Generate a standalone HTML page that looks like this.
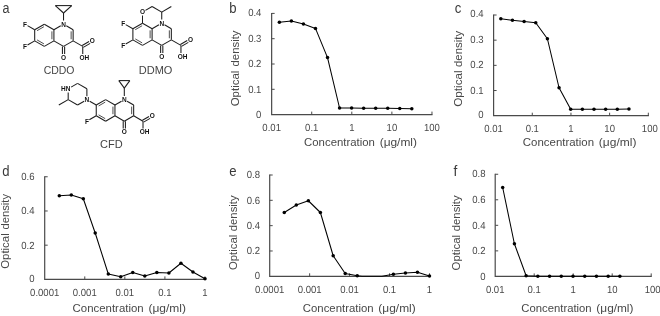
<!DOCTYPE html>
<html><head><meta charset="utf-8"><title>figure</title>
<style>
html,body{margin:0;padding:0;background:#fff;}
body{width:660px;height:316px;overflow:hidden;font-family:"Liberation Sans",sans-serif;}
svg{display:block;will-change:transform}
</style></head><body>
<svg width="660" height="316" viewBox="0 0 660 316">
<rect width="660" height="316" fill="#fff"/>
<line x1="44.30" y1="24.20" x2="53.91" y2="29.75" stroke="#1c1c1c" stroke-width="1.05"/>
<line x1="53.91" y1="29.75" x2="53.91" y2="40.85" stroke="#1c1c1c" stroke-width="1.05"/>
<line x1="53.91" y1="40.85" x2="44.30" y2="46.40" stroke="#1c1c1c" stroke-width="1.05"/>
<line x1="44.30" y1="46.40" x2="34.69" y2="40.85" stroke="#1c1c1c" stroke-width="1.05"/>
<line x1="34.69" y1="40.85" x2="34.69" y2="29.75" stroke="#1c1c1c" stroke-width="1.05"/>
<line x1="34.69" y1="29.75" x2="44.30" y2="24.20" stroke="#1c1c1c" stroke-width="1.05"/>
<line x1="37.07" y1="30.68" x2="43.91" y2="26.73" stroke="#444" stroke-width="0.95"/>
<line x1="51.91" y1="31.35" x2="51.91" y2="39.25" stroke="#444" stroke-width="0.95"/>
<line x1="43.91" y1="43.87" x2="37.07" y2="39.92" stroke="#444" stroke-width="0.95"/>
<line x1="53.91" y1="29.75" x2="60.75" y2="25.80" stroke="#1c1c1c" stroke-width="1.05"/>
<line x1="66.30" y1="25.80" x2="73.14" y2="29.75" stroke="#1c1c1c" stroke-width="1.05"/>
<line x1="73.14" y1="29.75" x2="73.14" y2="40.85" stroke="#1c1c1c" stroke-width="1.05"/>
<line x1="73.14" y1="40.85" x2="63.53" y2="46.40" stroke="#1c1c1c" stroke-width="1.05"/>
<line x1="63.53" y1="46.40" x2="53.91" y2="40.85" stroke="#1c1c1c" stroke-width="1.05"/>
<line x1="71.14" y1="31.35" x2="71.14" y2="39.25" stroke="#444" stroke-width="0.95"/>
<text x="63.53" y="26.54" font-size="6.5" font-weight="bold" text-anchor="middle" fill="#111" font-family="Liberation Sans, sans-serif">N</text>
<line x1="62.43" y1="46.40" x2="62.43" y2="54.10" stroke="#1c1c1c" stroke-width="1.05"/>
<line x1="64.63" y1="46.40" x2="64.63" y2="54.10" stroke="#1c1c1c" stroke-width="1.05"/>
<text x="63.53" y="59.84" font-size="6.5" font-weight="bold" text-anchor="middle" fill="#111" font-family="Liberation Sans, sans-serif">O</text>
<line x1="73.14" y1="40.85" x2="82.75" y2="46.40" stroke="#1c1c1c" stroke-width="1.05"/>
<line x1="83.30" y1="47.35" x2="90.14" y2="43.40" stroke="#1c1c1c" stroke-width="1.05"/>
<line x1="82.20" y1="45.45" x2="89.04" y2="41.50" stroke="#1c1c1c" stroke-width="1.05"/>
<text x="92.36" y="43.19" font-size="6.5" font-weight="bold" text-anchor="middle" fill="#111" font-family="Liberation Sans, sans-serif">O</text>
<line x1="82.75" y1="46.40" x2="82.75" y2="54.10" stroke="#1c1c1c" stroke-width="1.05"/>
<text x="84.35" y="59.84" font-size="6.5" font-weight="bold" text-anchor="middle" fill="#111" font-family="Liberation Sans, sans-serif">OH</text>
<line x1="34.69" y1="29.75" x2="27.50" y2="25.60" stroke="#1c1c1c" stroke-width="1.05"/>
<text x="25.07" y="26.54" font-size="6.5" font-weight="bold" text-anchor="middle" fill="#111" font-family="Liberation Sans, sans-serif">F</text>
<line x1="34.69" y1="40.85" x2="27.50" y2="45.00" stroke="#1c1c1c" stroke-width="1.05"/>
<text x="25.07" y="48.74" font-size="6.5" font-weight="bold" text-anchor="middle" fill="#111" font-family="Liberation Sans, sans-serif">F</text>
<line x1="63.53" y1="20.60" x2="63.53" y2="13.00" stroke="#1c1c1c" stroke-width="1.05"/>
<line x1="63.53" y1="13.00" x2="55.33" y2="5.60" stroke="#1c1c1c" stroke-width="1.05"/>
<line x1="63.53" y1="13.00" x2="71.73" y2="5.60" stroke="#1c1c1c" stroke-width="1.05"/>
<line x1="55.33" y1="5.60" x2="71.73" y2="5.60" stroke="#1c1c1c" stroke-width="1.05"/>
<text x="59.10" y="74.00" font-size="11" text-anchor="middle" fill="#444" font-family="Liberation Sans, sans-serif" textLength="30.80" lengthAdjust="spacingAndGlyphs">CDDO</text>
<line x1="142.50" y1="23.20" x2="152.11" y2="28.75" stroke="#1c1c1c" stroke-width="1.05"/>
<line x1="152.11" y1="28.75" x2="152.11" y2="39.85" stroke="#1c1c1c" stroke-width="1.05"/>
<line x1="152.11" y1="39.85" x2="142.50" y2="45.40" stroke="#1c1c1c" stroke-width="1.05"/>
<line x1="142.50" y1="45.40" x2="132.89" y2="39.85" stroke="#1c1c1c" stroke-width="1.05"/>
<line x1="132.89" y1="39.85" x2="132.89" y2="28.75" stroke="#1c1c1c" stroke-width="1.05"/>
<line x1="132.89" y1="28.75" x2="142.50" y2="23.20" stroke="#1c1c1c" stroke-width="1.05"/>
<line x1="135.27" y1="29.68" x2="142.11" y2="25.73" stroke="#444" stroke-width="0.95"/>
<line x1="150.11" y1="30.35" x2="150.11" y2="38.25" stroke="#444" stroke-width="0.95"/>
<line x1="142.11" y1="42.87" x2="135.27" y2="38.92" stroke="#444" stroke-width="0.95"/>
<line x1="152.11" y1="28.75" x2="158.95" y2="24.80" stroke="#1c1c1c" stroke-width="1.05"/>
<line x1="164.50" y1="24.80" x2="171.34" y2="28.75" stroke="#1c1c1c" stroke-width="1.05"/>
<line x1="171.34" y1="28.75" x2="171.34" y2="39.85" stroke="#1c1c1c" stroke-width="1.05"/>
<line x1="171.34" y1="39.85" x2="161.73" y2="45.40" stroke="#1c1c1c" stroke-width="1.05"/>
<line x1="161.73" y1="45.40" x2="152.11" y2="39.85" stroke="#1c1c1c" stroke-width="1.05"/>
<line x1="169.34" y1="30.35" x2="169.34" y2="38.25" stroke="#444" stroke-width="0.95"/>
<text x="161.73" y="25.54" font-size="6.5" font-weight="bold" text-anchor="middle" fill="#111" font-family="Liberation Sans, sans-serif">N</text>
<line x1="160.63" y1="45.40" x2="160.63" y2="53.10" stroke="#1c1c1c" stroke-width="1.05"/>
<line x1="162.83" y1="45.40" x2="162.83" y2="53.10" stroke="#1c1c1c" stroke-width="1.05"/>
<text x="161.73" y="58.84" font-size="6.5" font-weight="bold" text-anchor="middle" fill="#111" font-family="Liberation Sans, sans-serif">O</text>
<line x1="171.34" y1="39.85" x2="180.95" y2="45.40" stroke="#1c1c1c" stroke-width="1.05"/>
<line x1="181.50" y1="46.35" x2="188.34" y2="42.40" stroke="#1c1c1c" stroke-width="1.05"/>
<line x1="180.40" y1="44.45" x2="187.24" y2="40.50" stroke="#1c1c1c" stroke-width="1.05"/>
<text x="190.56" y="42.19" font-size="6.5" font-weight="bold" text-anchor="middle" fill="#111" font-family="Liberation Sans, sans-serif">O</text>
<line x1="180.95" y1="45.40" x2="180.95" y2="53.10" stroke="#1c1c1c" stroke-width="1.05"/>
<text x="182.55" y="58.84" font-size="6.5" font-weight="bold" text-anchor="middle" fill="#111" font-family="Liberation Sans, sans-serif">OH</text>
<line x1="132.89" y1="28.75" x2="125.70" y2="24.60" stroke="#1c1c1c" stroke-width="1.05"/>
<text x="123.27" y="25.54" font-size="6.5" font-weight="bold" text-anchor="middle" fill="#111" font-family="Liberation Sans, sans-serif">F</text>
<line x1="132.89" y1="39.85" x2="125.70" y2="44.00" stroke="#1c1c1c" stroke-width="1.05"/>
<text x="123.27" y="47.74" font-size="6.5" font-weight="bold" text-anchor="middle" fill="#111" font-family="Liberation Sans, sans-serif">F</text>
<line x1="142.50" y1="23.20" x2="142.50" y2="15.50" stroke="#1c1c1c" stroke-width="1.05"/>
<line x1="145.44" y1="10.40" x2="152.11" y2="6.55" stroke="#1c1c1c" stroke-width="1.05"/>
<line x1="152.11" y1="6.55" x2="161.73" y2="12.10" stroke="#1c1c1c" stroke-width="1.05"/>
<line x1="161.73" y1="12.10" x2="161.73" y2="19.60" stroke="#1c1c1c" stroke-width="1.05"/>
<text x="142.50" y="14.44" font-size="6.5" font-weight="bold" text-anchor="middle" fill="#111" font-family="Liberation Sans, sans-serif">O</text>
<line x1="161.73" y1="12.10" x2="171.34" y2="6.55" stroke="#1c1c1c" stroke-width="1.05"/>
<text x="155.60" y="74.00" font-size="11" text-anchor="middle" fill="#444" font-family="Liberation Sans, sans-serif">DDMO</text>
<line x1="105.60" y1="99.60" x2="114.95" y2="105.00" stroke="#1c1c1c" stroke-width="1.05"/>
<line x1="114.95" y1="105.00" x2="114.95" y2="115.80" stroke="#1c1c1c" stroke-width="1.05"/>
<line x1="114.95" y1="115.80" x2="105.60" y2="121.20" stroke="#1c1c1c" stroke-width="1.05"/>
<line x1="105.60" y1="121.20" x2="96.25" y2="115.80" stroke="#1c1c1c" stroke-width="1.05"/>
<line x1="96.25" y1="115.80" x2="96.25" y2="105.00" stroke="#1c1c1c" stroke-width="1.05"/>
<line x1="96.25" y1="105.00" x2="105.60" y2="99.60" stroke="#1c1c1c" stroke-width="1.05"/>
<line x1="98.63" y1="105.93" x2="105.21" y2="102.13" stroke="#444" stroke-width="0.95"/>
<line x1="112.95" y1="106.60" x2="112.95" y2="114.20" stroke="#444" stroke-width="0.95"/>
<line x1="105.21" y1="118.67" x2="98.63" y2="114.87" stroke="#444" stroke-width="0.95"/>
<line x1="114.95" y1="105.00" x2="121.53" y2="101.20" stroke="#1c1c1c" stroke-width="1.05"/>
<line x1="127.08" y1="101.20" x2="133.66" y2="105.00" stroke="#1c1c1c" stroke-width="1.05"/>
<line x1="133.66" y1="105.00" x2="133.66" y2="115.80" stroke="#1c1c1c" stroke-width="1.05"/>
<line x1="133.66" y1="115.80" x2="124.31" y2="121.20" stroke="#1c1c1c" stroke-width="1.05"/>
<line x1="124.31" y1="121.20" x2="114.95" y2="115.80" stroke="#1c1c1c" stroke-width="1.05"/>
<line x1="131.66" y1="106.60" x2="131.66" y2="114.20" stroke="#444" stroke-width="0.95"/>
<text x="124.31" y="101.94" font-size="6.5" font-weight="bold" text-anchor="middle" fill="#111" font-family="Liberation Sans, sans-serif">N</text>
<line x1="123.21" y1="121.20" x2="123.21" y2="128.60" stroke="#1c1c1c" stroke-width="1.05"/>
<line x1="125.41" y1="121.20" x2="125.41" y2="128.60" stroke="#1c1c1c" stroke-width="1.05"/>
<text x="124.31" y="134.34" font-size="6.5" font-weight="bold" text-anchor="middle" fill="#111" font-family="Liberation Sans, sans-serif">O</text>
<line x1="133.66" y1="115.80" x2="143.01" y2="121.20" stroke="#1c1c1c" stroke-width="1.05"/>
<line x1="143.56" y1="122.15" x2="150.14" y2="118.35" stroke="#1c1c1c" stroke-width="1.05"/>
<line x1="142.46" y1="120.25" x2="149.04" y2="116.45" stroke="#1c1c1c" stroke-width="1.05"/>
<text x="152.36" y="118.14" font-size="6.5" font-weight="bold" text-anchor="middle" fill="#111" font-family="Liberation Sans, sans-serif">O</text>
<line x1="143.01" y1="121.20" x2="143.01" y2="128.60" stroke="#1c1c1c" stroke-width="1.05"/>
<text x="144.61" y="134.34" font-size="6.5" font-weight="bold" text-anchor="middle" fill="#111" font-family="Liberation Sans, sans-serif">OH</text>
<line x1="96.25" y1="115.80" x2="89.32" y2="119.80" stroke="#1c1c1c" stroke-width="1.05"/>
<text x="86.89" y="123.54" font-size="6.5" font-weight="bold" text-anchor="middle" fill="#111" font-family="Liberation Sans, sans-serif">F</text>
<line x1="124.31" y1="96.00" x2="124.31" y2="88.10" stroke="#1c1c1c" stroke-width="1.05"/>
<line x1="124.31" y1="88.10" x2="118.81" y2="80.60" stroke="#1c1c1c" stroke-width="1.05"/>
<line x1="124.31" y1="88.10" x2="129.81" y2="80.60" stroke="#1c1c1c" stroke-width="1.05"/>
<line x1="118.81" y1="80.60" x2="129.81" y2="80.60" stroke="#1c1c1c" stroke-width="1.05"/>
<line x1="96.25" y1="105.00" x2="89.67" y2="101.20" stroke="#1c1c1c" stroke-width="1.05"/>
<text x="86.89" y="101.94" font-size="6.5" font-weight="bold" text-anchor="middle" fill="#111" font-family="Liberation Sans, sans-serif">N</text>
<line x1="86.89" y1="96.20" x2="86.89" y2="88.80" stroke="#1c1c1c" stroke-width="1.05"/>
<line x1="86.89" y1="88.80" x2="77.54" y2="83.40" stroke="#1c1c1c" stroke-width="1.05"/>
<line x1="77.54" y1="83.40" x2="71.13" y2="87.10" stroke="#1c1c1c" stroke-width="1.05"/>
<line x1="68.19" y1="92.40" x2="68.19" y2="99.60" stroke="#1c1c1c" stroke-width="1.05"/>
<line x1="68.19" y1="99.60" x2="77.54" y2="105.00" stroke="#1c1c1c" stroke-width="1.05"/>
<line x1="77.54" y1="105.00" x2="84.12" y2="101.20" stroke="#1c1c1c" stroke-width="1.05"/>
<text x="70.39" y="91.14" font-size="6.5" font-weight="bold" text-anchor="end" fill="#111" font-family="Liberation Sans, sans-serif">HN</text>
<line x1="68.19" y1="99.60" x2="58.84" y2="105.00" stroke="#1c1c1c" stroke-width="1.05"/>
<text x="111.40" y="148.20" font-size="11" text-anchor="middle" fill="#444" font-family="Liberation Sans, sans-serif">CFD</text>
<text x="2.60" y="12.60" font-size="14" text-anchor="start" fill="#3a3a3a" font-family="Liberation Sans, sans-serif" textLength="7.00" lengthAdjust="spacingAndGlyphs">a</text>
<text x="229.30" y="12.80" font-size="14" text-anchor="start" fill="#3a3a3a" font-family="Liberation Sans, sans-serif" textLength="7.30" lengthAdjust="spacingAndGlyphs">b</text>
<path d="M271.65 12.90 V114.60 H432.50" fill="none" stroke="#4a4a4a" stroke-width="1.2"/>
<text x="261.40" y="118.00" font-size="10.3" text-anchor="end" fill="#484848" font-family="Liberation Sans, sans-serif" textLength="5.31" lengthAdjust="spacingAndGlyphs" style="text-rendering:geometricPrecision">0</text>
<line x1="271.65" y1="89.30" x2="274.65" y2="89.30" stroke="#4a4a4a" stroke-width="1.0"/>
<text x="261.40" y="92.70" font-size="10.3" text-anchor="end" fill="#484848" font-family="Liberation Sans, sans-serif" textLength="13.27" lengthAdjust="spacingAndGlyphs" style="text-rendering:geometricPrecision">0.1</text>
<line x1="271.65" y1="64.00" x2="274.65" y2="64.00" stroke="#4a4a4a" stroke-width="1.0"/>
<text x="261.40" y="67.40" font-size="10.3" text-anchor="end" fill="#484848" font-family="Liberation Sans, sans-serif" textLength="13.27" lengthAdjust="spacingAndGlyphs" style="text-rendering:geometricPrecision">0.2</text>
<line x1="271.65" y1="38.70" x2="274.65" y2="38.70" stroke="#4a4a4a" stroke-width="1.0"/>
<text x="261.40" y="42.10" font-size="10.3" text-anchor="end" fill="#484848" font-family="Liberation Sans, sans-serif" textLength="13.27" lengthAdjust="spacingAndGlyphs" style="text-rendering:geometricPrecision">0.3</text>
<line x1="271.65" y1="13.40" x2="274.65" y2="13.40" stroke="#4a4a4a" stroke-width="1.0"/>
<text x="261.40" y="15.90" font-size="10.3" text-anchor="end" fill="#484848" font-family="Liberation Sans, sans-serif" textLength="13.27" lengthAdjust="spacingAndGlyphs" style="text-rendering:geometricPrecision">0.4</text>
<text x="271.65" y="130.70" font-size="10.3" text-anchor="middle" fill="#484848" font-family="Liberation Sans, sans-serif" textLength="18.58" lengthAdjust="spacingAndGlyphs" style="text-rendering:geometricPrecision">0.01</text>
<line x1="311.73" y1="114.60" x2="311.73" y2="111.60" stroke="#4a4a4a" stroke-width="1.0"/>
<text x="311.73" y="130.70" font-size="10.3" text-anchor="middle" fill="#484848" font-family="Liberation Sans, sans-serif" textLength="13.27" lengthAdjust="spacingAndGlyphs" style="text-rendering:geometricPrecision">0.1</text>
<line x1="351.81" y1="114.60" x2="351.81" y2="111.60" stroke="#4a4a4a" stroke-width="1.0"/>
<text x="351.81" y="130.70" font-size="10.3" text-anchor="middle" fill="#484848" font-family="Liberation Sans, sans-serif" textLength="5.31" lengthAdjust="spacingAndGlyphs" style="text-rendering:geometricPrecision">1</text>
<line x1="391.89" y1="114.60" x2="391.89" y2="111.60" stroke="#4a4a4a" stroke-width="1.0"/>
<text x="391.89" y="130.70" font-size="10.3" text-anchor="middle" fill="#484848" font-family="Liberation Sans, sans-serif" textLength="10.62" lengthAdjust="spacingAndGlyphs" style="text-rendering:geometricPrecision">10</text>
<line x1="431.97" y1="114.60" x2="431.97" y2="111.60" stroke="#4a4a4a" stroke-width="1.0"/>
<text x="431.97" y="130.70" font-size="10.3" text-anchor="middle" fill="#484848" font-family="Liberation Sans, sans-serif" textLength="15.93" lengthAdjust="spacingAndGlyphs" style="text-rendering:geometricPrecision">100</text>
<text x="304.10" y="145.90" font-size="11.5" text-anchor="start" fill="#484848" font-family="Liberation Sans, sans-serif" textLength="70.77" lengthAdjust="spacingAndGlyphs">Concentration</text>
<text x="379.67" y="145.90" font-size="11.5" text-anchor="start" fill="#484848" font-family="Liberation Sans, sans-serif" textLength="37.33" lengthAdjust="spacingAndGlyphs">(&#956;g/ml)</text>
<text transform="translate(239.10,66.50) rotate(-90)" font-size="11.5" fill="#484848" font-family="Liberation Sans, sans-serif" textLength="36.00" lengthAdjust="spacingAndGlyphs">density</text>
<text transform="translate(239.10,106.30) rotate(-90)" font-size="11.5" fill="#484848" font-family="Liberation Sans, sans-serif" textLength="35.60" lengthAdjust="spacingAndGlyphs">Optical</text>
<polyline fill="none" stroke="#000" stroke-width="1.05" stroke-linejoin="round" points="279.36,22.15 291.40,20.90 303.44,24.10 315.48,28.40 327.52,57.60 339.56,108.00 351.60,108.00 363.64,108.25 375.68,108.25 387.72,108.25 399.76,108.50 411.80,108.75"/>
<circle cx="279.36" cy="22.15" r="1.75" fill="#000"/>
<circle cx="291.40" cy="20.90" r="1.75" fill="#000"/>
<circle cx="303.44" cy="24.10" r="1.75" fill="#000"/>
<circle cx="315.48" cy="28.40" r="1.75" fill="#000"/>
<circle cx="327.52" cy="57.60" r="1.75" fill="#000"/>
<circle cx="339.56" cy="108.00" r="1.75" fill="#000"/>
<circle cx="351.60" cy="108.00" r="1.75" fill="#000"/>
<circle cx="363.64" cy="108.25" r="1.75" fill="#000"/>
<circle cx="375.68" cy="108.25" r="1.75" fill="#000"/>
<circle cx="387.72" cy="108.25" r="1.75" fill="#000"/>
<circle cx="399.76" cy="108.50" r="1.75" fill="#000"/>
<circle cx="411.80" cy="108.75" r="1.75" fill="#000"/>
<text x="454.80" y="12.80" font-size="14" text-anchor="start" fill="#3a3a3a" font-family="Liberation Sans, sans-serif" textLength="6.60" lengthAdjust="spacingAndGlyphs">c</text>
<path d="M493.60 14.50 V115.70 H648.90" fill="none" stroke="#4a4a4a" stroke-width="1.2"/>
<text x="483.60" y="118.40" font-size="10.3" text-anchor="end" fill="#484848" font-family="Liberation Sans, sans-serif" textLength="5.31" lengthAdjust="spacingAndGlyphs" style="text-rendering:geometricPrecision">0</text>
<line x1="493.60" y1="90.53" x2="496.60" y2="90.53" stroke="#4a4a4a" stroke-width="1.0"/>
<text x="483.60" y="93.63" font-size="10.3" text-anchor="end" fill="#484848" font-family="Liberation Sans, sans-serif" textLength="13.27" lengthAdjust="spacingAndGlyphs" style="text-rendering:geometricPrecision">0.1</text>
<line x1="493.60" y1="65.35" x2="496.60" y2="65.35" stroke="#4a4a4a" stroke-width="1.0"/>
<text x="483.60" y="68.45" font-size="10.3" text-anchor="end" fill="#484848" font-family="Liberation Sans, sans-serif" textLength="13.27" lengthAdjust="spacingAndGlyphs" style="text-rendering:geometricPrecision">0.2</text>
<line x1="493.60" y1="40.17" x2="496.60" y2="40.17" stroke="#4a4a4a" stroke-width="1.0"/>
<text x="483.60" y="43.27" font-size="10.3" text-anchor="end" fill="#484848" font-family="Liberation Sans, sans-serif" textLength="13.27" lengthAdjust="spacingAndGlyphs" style="text-rendering:geometricPrecision">0.3</text>
<line x1="493.60" y1="15.00" x2="496.60" y2="15.00" stroke="#4a4a4a" stroke-width="1.0"/>
<text x="483.60" y="17.20" font-size="10.3" text-anchor="end" fill="#484848" font-family="Liberation Sans, sans-serif" textLength="13.27" lengthAdjust="spacingAndGlyphs" style="text-rendering:geometricPrecision">0.4</text>
<text x="493.60" y="131.50" font-size="10.3" text-anchor="middle" fill="#484848" font-family="Liberation Sans, sans-serif" textLength="18.58" lengthAdjust="spacingAndGlyphs" style="text-rendering:geometricPrecision">0.01</text>
<line x1="532.28" y1="115.70" x2="532.28" y2="112.70" stroke="#4a4a4a" stroke-width="1.0"/>
<text x="532.28" y="131.50" font-size="10.3" text-anchor="middle" fill="#484848" font-family="Liberation Sans, sans-serif" textLength="13.27" lengthAdjust="spacingAndGlyphs" style="text-rendering:geometricPrecision">0.1</text>
<line x1="570.96" y1="115.70" x2="570.96" y2="112.70" stroke="#4a4a4a" stroke-width="1.0"/>
<text x="570.96" y="131.50" font-size="10.3" text-anchor="middle" fill="#484848" font-family="Liberation Sans, sans-serif" textLength="5.31" lengthAdjust="spacingAndGlyphs" style="text-rendering:geometricPrecision">1</text>
<line x1="609.64" y1="115.70" x2="609.64" y2="112.70" stroke="#4a4a4a" stroke-width="1.0"/>
<text x="609.64" y="131.50" font-size="10.3" text-anchor="middle" fill="#484848" font-family="Liberation Sans, sans-serif" textLength="10.62" lengthAdjust="spacingAndGlyphs" style="text-rendering:geometricPrecision">10</text>
<line x1="648.32" y1="115.70" x2="648.32" y2="112.70" stroke="#4a4a4a" stroke-width="1.0"/>
<text x="649.82" y="131.50" font-size="10.3" text-anchor="middle" fill="#484848" font-family="Liberation Sans, sans-serif" textLength="15.93" lengthAdjust="spacingAndGlyphs" style="text-rendering:geometricPrecision">100</text>
<text x="522.85" y="145.90" font-size="11.5" text-anchor="start" fill="#484848" font-family="Liberation Sans, sans-serif" textLength="71.22" lengthAdjust="spacingAndGlyphs">Concentration</text>
<text x="598.88" y="145.90" font-size="11.5" text-anchor="start" fill="#484848" font-family="Liberation Sans, sans-serif" textLength="37.57" lengthAdjust="spacingAndGlyphs">(&#956;g/ml)</text>
<text transform="translate(462.40,67.00) rotate(-90)" font-size="11.5" fill="#484848" font-family="Liberation Sans, sans-serif" textLength="36.20" lengthAdjust="spacingAndGlyphs">density</text>
<text transform="translate(462.40,106.70) rotate(-90)" font-size="11.5" fill="#484848" font-family="Liberation Sans, sans-serif" textLength="36.20" lengthAdjust="spacingAndGlyphs">Optical</text>
<polyline fill="none" stroke="#000" stroke-width="1.05" stroke-linejoin="round" points="500.80,18.75 512.45,20.25 524.10,21.50 535.75,22.75 547.40,38.75 559.05,87.75 570.70,109.25 582.35,109.25 594.00,109.25 605.65,109.25 617.30,109.25 628.95,109.00"/>
<circle cx="500.80" cy="18.75" r="1.75" fill="#000"/>
<circle cx="512.45" cy="20.25" r="1.75" fill="#000"/>
<circle cx="524.10" cy="21.50" r="1.75" fill="#000"/>
<circle cx="535.75" cy="22.75" r="1.75" fill="#000"/>
<circle cx="547.40" cy="38.75" r="1.75" fill="#000"/>
<circle cx="559.05" cy="87.75" r="1.75" fill="#000"/>
<circle cx="570.70" cy="109.25" r="1.75" fill="#000"/>
<circle cx="582.35" cy="109.25" r="1.75" fill="#000"/>
<circle cx="594.00" cy="109.25" r="1.75" fill="#000"/>
<circle cx="605.65" cy="109.25" r="1.75" fill="#000"/>
<circle cx="617.30" cy="109.25" r="1.75" fill="#000"/>
<circle cx="628.95" cy="109.00" r="1.75" fill="#000"/>
<text x="2.30" y="175.50" font-size="14" text-anchor="start" fill="#3a3a3a" font-family="Liberation Sans, sans-serif" textLength="7.30" lengthAdjust="spacingAndGlyphs">d</text>
<path d="M44.70 176.25 V279.40 H205.50" fill="none" stroke="#4a4a4a" stroke-width="1.2"/>
<text x="34.50" y="281.80" font-size="10.3" text-anchor="end" fill="#484848" font-family="Liberation Sans, sans-serif" textLength="5.31" lengthAdjust="spacingAndGlyphs" style="text-rendering:geometricPrecision">0</text>
<line x1="44.70" y1="245.18" x2="47.70" y2="245.18" stroke="#4a4a4a" stroke-width="1.0"/>
<text x="34.50" y="248.58" font-size="10.3" text-anchor="end" fill="#484848" font-family="Liberation Sans, sans-serif" textLength="13.27" lengthAdjust="spacingAndGlyphs" style="text-rendering:geometricPrecision">0.2</text>
<line x1="44.70" y1="210.97" x2="47.70" y2="210.97" stroke="#4a4a4a" stroke-width="1.0"/>
<text x="34.50" y="214.37" font-size="10.3" text-anchor="end" fill="#484848" font-family="Liberation Sans, sans-serif" textLength="13.27" lengthAdjust="spacingAndGlyphs" style="text-rendering:geometricPrecision">0.4</text>
<line x1="44.70" y1="176.75" x2="47.70" y2="176.75" stroke="#4a4a4a" stroke-width="1.0"/>
<text x="34.50" y="180.05" font-size="10.3" text-anchor="end" fill="#484848" font-family="Liberation Sans, sans-serif" textLength="13.27" lengthAdjust="spacingAndGlyphs" style="text-rendering:geometricPrecision">0.6</text>
<text x="44.70" y="295.50" font-size="10.3" text-anchor="middle" fill="#484848" font-family="Liberation Sans, sans-serif" textLength="29.20" lengthAdjust="spacingAndGlyphs" style="text-rendering:geometricPrecision">0.0001</text>
<line x1="84.77" y1="279.40" x2="84.77" y2="276.40" stroke="#4a4a4a" stroke-width="1.0"/>
<text x="84.77" y="295.50" font-size="10.3" text-anchor="middle" fill="#484848" font-family="Liberation Sans, sans-serif" textLength="23.89" lengthAdjust="spacingAndGlyphs" style="text-rendering:geometricPrecision">0.001</text>
<line x1="124.84" y1="279.40" x2="124.84" y2="276.40" stroke="#4a4a4a" stroke-width="1.0"/>
<text x="124.84" y="295.50" font-size="10.3" text-anchor="middle" fill="#484848" font-family="Liberation Sans, sans-serif" textLength="18.58" lengthAdjust="spacingAndGlyphs" style="text-rendering:geometricPrecision">0.01</text>
<line x1="164.91" y1="279.40" x2="164.91" y2="276.40" stroke="#4a4a4a" stroke-width="1.0"/>
<text x="164.91" y="295.50" font-size="10.3" text-anchor="middle" fill="#484848" font-family="Liberation Sans, sans-serif" textLength="13.27" lengthAdjust="spacingAndGlyphs" style="text-rendering:geometricPrecision">0.1</text>
<line x1="204.98" y1="279.40" x2="204.98" y2="276.40" stroke="#4a4a4a" stroke-width="1.0"/>
<text x="204.98" y="295.50" font-size="10.3" text-anchor="middle" fill="#484848" font-family="Liberation Sans, sans-serif" textLength="5.31" lengthAdjust="spacingAndGlyphs" style="text-rendering:geometricPrecision">1</text>
<text x="72.60" y="311.90" font-size="11.5" text-anchor="start" fill="#484848" font-family="Liberation Sans, sans-serif" textLength="71.06" lengthAdjust="spacingAndGlyphs">Concentration</text>
<text x="148.47" y="311.90" font-size="11.5" text-anchor="start" fill="#484848" font-family="Liberation Sans, sans-serif" textLength="37.48" lengthAdjust="spacingAndGlyphs">(&#956;g/ml)</text>
<text transform="translate(9.30,229.60) rotate(-90)" font-size="11.5" fill="#484848" font-family="Liberation Sans, sans-serif" textLength="35.70" lengthAdjust="spacingAndGlyphs">density</text>
<text transform="translate(9.30,268.80) rotate(-90)" font-size="11.5" fill="#484848" font-family="Liberation Sans, sans-serif" textLength="35.50" lengthAdjust="spacingAndGlyphs">Optical</text>
<polyline fill="none" stroke="#000" stroke-width="1.05" stroke-linejoin="round" points="59.30,195.75 71.30,195.00 83.30,198.75 95.20,233.00 108.30,274.00 120.72,276.75 132.76,272.50 144.80,276.00 156.84,272.50 168.88,273.00 180.92,263.25 192.96,272.00 205.00,278.75"/>
<circle cx="59.30" cy="195.75" r="1.75" fill="#000"/>
<circle cx="71.30" cy="195.00" r="1.75" fill="#000"/>
<circle cx="83.30" cy="198.75" r="1.75" fill="#000"/>
<circle cx="95.20" cy="233.00" r="1.75" fill="#000"/>
<circle cx="108.30" cy="274.00" r="1.75" fill="#000"/>
<circle cx="120.72" cy="276.75" r="1.75" fill="#000"/>
<circle cx="132.76" cy="272.50" r="1.75" fill="#000"/>
<circle cx="144.80" cy="276.00" r="1.75" fill="#000"/>
<circle cx="156.84" cy="272.50" r="1.75" fill="#000"/>
<circle cx="168.88" cy="273.00" r="1.75" fill="#000"/>
<circle cx="180.92" cy="263.25" r="1.75" fill="#000"/>
<circle cx="192.96" cy="272.00" r="1.75" fill="#000"/>
<circle cx="205.00" cy="278.75" r="1.75" fill="#000"/>
<text x="229.30" y="175.50" font-size="14" text-anchor="start" fill="#3a3a3a" font-family="Liberation Sans, sans-serif" textLength="7.30" lengthAdjust="spacingAndGlyphs">e</text>
<path d="M269.70 174.50 V276.30 H430.10" fill="none" stroke="#4a4a4a" stroke-width="1.2"/>
<text x="260.00" y="278.80" font-size="10.3" text-anchor="end" fill="#484848" font-family="Liberation Sans, sans-serif" textLength="5.31" lengthAdjust="spacingAndGlyphs" style="text-rendering:geometricPrecision">0</text>
<line x1="269.70" y1="250.98" x2="272.70" y2="250.98" stroke="#4a4a4a" stroke-width="1.0"/>
<text x="260.00" y="254.38" font-size="10.3" text-anchor="end" fill="#484848" font-family="Liberation Sans, sans-serif" textLength="13.27" lengthAdjust="spacingAndGlyphs" style="text-rendering:geometricPrecision">0.2</text>
<line x1="269.70" y1="225.65" x2="272.70" y2="225.65" stroke="#4a4a4a" stroke-width="1.0"/>
<text x="260.00" y="229.05" font-size="10.3" text-anchor="end" fill="#484848" font-family="Liberation Sans, sans-serif" textLength="13.27" lengthAdjust="spacingAndGlyphs" style="text-rendering:geometricPrecision">0.4</text>
<line x1="269.70" y1="200.32" x2="272.70" y2="200.32" stroke="#4a4a4a" stroke-width="1.0"/>
<text x="260.00" y="203.72" font-size="10.3" text-anchor="end" fill="#484848" font-family="Liberation Sans, sans-serif" textLength="13.27" lengthAdjust="spacingAndGlyphs" style="text-rendering:geometricPrecision">0.6</text>
<line x1="269.70" y1="175.00" x2="272.70" y2="175.00" stroke="#4a4a4a" stroke-width="1.0"/>
<text x="260.00" y="177.50" font-size="10.3" text-anchor="end" fill="#484848" font-family="Liberation Sans, sans-serif" textLength="13.27" lengthAdjust="spacingAndGlyphs" style="text-rendering:geometricPrecision">0.8</text>
<text x="269.70" y="293.00" font-size="10.3" text-anchor="middle" fill="#484848" font-family="Liberation Sans, sans-serif" textLength="29.20" lengthAdjust="spacingAndGlyphs" style="text-rendering:geometricPrecision">0.0001</text>
<line x1="309.65" y1="276.30" x2="309.65" y2="273.30" stroke="#4a4a4a" stroke-width="1.0"/>
<text x="309.65" y="293.00" font-size="10.3" text-anchor="middle" fill="#484848" font-family="Liberation Sans, sans-serif" textLength="23.89" lengthAdjust="spacingAndGlyphs" style="text-rendering:geometricPrecision">0.001</text>
<line x1="349.60" y1="276.30" x2="349.60" y2="273.30" stroke="#4a4a4a" stroke-width="1.0"/>
<text x="349.60" y="293.00" font-size="10.3" text-anchor="middle" fill="#484848" font-family="Liberation Sans, sans-serif" textLength="18.58" lengthAdjust="spacingAndGlyphs" style="text-rendering:geometricPrecision">0.01</text>
<line x1="389.55" y1="276.30" x2="389.55" y2="273.30" stroke="#4a4a4a" stroke-width="1.0"/>
<text x="389.55" y="293.00" font-size="10.3" text-anchor="middle" fill="#484848" font-family="Liberation Sans, sans-serif" textLength="13.27" lengthAdjust="spacingAndGlyphs" style="text-rendering:geometricPrecision">0.1</text>
<line x1="429.50" y1="276.30" x2="429.50" y2="273.30" stroke="#4a4a4a" stroke-width="1.0"/>
<text x="429.50" y="293.00" font-size="10.3" text-anchor="middle" fill="#484848" font-family="Liberation Sans, sans-serif" textLength="5.31" lengthAdjust="spacingAndGlyphs" style="text-rendering:geometricPrecision">1</text>
<text x="302.85" y="311.90" font-size="11.5" text-anchor="start" fill="#484848" font-family="Liberation Sans, sans-serif" textLength="70.74" lengthAdjust="spacingAndGlyphs">Concentration</text>
<text x="378.38" y="311.90" font-size="11.5" text-anchor="start" fill="#484848" font-family="Liberation Sans, sans-serif" textLength="37.32" lengthAdjust="spacingAndGlyphs">(&#956;g/ml)</text>
<text transform="translate(237.30,231.20) rotate(-90)" font-size="11.5" fill="#484848" font-family="Liberation Sans, sans-serif" textLength="35.80" lengthAdjust="spacingAndGlyphs">density</text>
<text transform="translate(237.30,270.00) rotate(-90)" font-size="11.5" fill="#484848" font-family="Liberation Sans, sans-serif" textLength="35.20" lengthAdjust="spacingAndGlyphs">Optical</text>
<polyline fill="none" stroke="#000" stroke-width="1.05" stroke-linejoin="round" points="284.27,212.50 296.31,205.00 308.35,200.75 320.39,212.50 333.18,255.75 345.22,273.50 357.26,275.75 362.00,276.30 382.00,276.30 393.38,274.25 405.42,273.00 417.46,272.25 429.50,276.00"/>
<circle cx="284.27" cy="212.50" r="1.75" fill="#000"/>
<circle cx="296.31" cy="205.00" r="1.75" fill="#000"/>
<circle cx="308.35" cy="200.75" r="1.75" fill="#000"/>
<circle cx="320.39" cy="212.50" r="1.75" fill="#000"/>
<circle cx="333.18" cy="255.75" r="1.75" fill="#000"/>
<circle cx="345.22" cy="273.50" r="1.75" fill="#000"/>
<circle cx="357.26" cy="275.75" r="1.75" fill="#000"/>
<circle cx="393.38" cy="274.25" r="1.75" fill="#000"/>
<circle cx="405.42" cy="273.00" r="1.75" fill="#000"/>
<circle cx="417.46" cy="272.25" r="1.75" fill="#000"/>
<circle cx="429.50" cy="276.00" r="1.75" fill="#000"/>
<text x="453.50" y="175.50" font-size="14" text-anchor="start" fill="#3a3a3a" font-family="Liberation Sans, sans-serif" textLength="3.80" lengthAdjust="spacingAndGlyphs">f</text>
<path d="M495.20 173.75 V276.40 H651.75" fill="none" stroke="#4a4a4a" stroke-width="1.2"/>
<text x="485.50" y="279.80" font-size="10.3" text-anchor="end" fill="#484848" font-family="Liberation Sans, sans-serif" textLength="5.31" lengthAdjust="spacingAndGlyphs" style="text-rendering:geometricPrecision">0</text>
<line x1="495.20" y1="250.86" x2="498.20" y2="250.86" stroke="#4a4a4a" stroke-width="1.0"/>
<text x="485.50" y="254.26" font-size="10.3" text-anchor="end" fill="#484848" font-family="Liberation Sans, sans-serif" textLength="13.27" lengthAdjust="spacingAndGlyphs" style="text-rendering:geometricPrecision">0.2</text>
<line x1="495.20" y1="225.32" x2="498.20" y2="225.32" stroke="#4a4a4a" stroke-width="1.0"/>
<text x="485.50" y="228.72" font-size="10.3" text-anchor="end" fill="#484848" font-family="Liberation Sans, sans-serif" textLength="13.27" lengthAdjust="spacingAndGlyphs" style="text-rendering:geometricPrecision">0.4</text>
<line x1="495.20" y1="199.79" x2="498.20" y2="199.79" stroke="#4a4a4a" stroke-width="1.0"/>
<text x="485.50" y="203.19" font-size="10.3" text-anchor="end" fill="#484848" font-family="Liberation Sans, sans-serif" textLength="13.27" lengthAdjust="spacingAndGlyphs" style="text-rendering:geometricPrecision">0.6</text>
<line x1="495.20" y1="174.25" x2="498.20" y2="174.25" stroke="#4a4a4a" stroke-width="1.0"/>
<text x="485.50" y="177.35" font-size="10.3" text-anchor="end" fill="#484848" font-family="Liberation Sans, sans-serif" textLength="13.27" lengthAdjust="spacingAndGlyphs" style="text-rendering:geometricPrecision">0.8</text>
<text x="495.20" y="293.00" font-size="10.3" text-anchor="middle" fill="#484848" font-family="Liberation Sans, sans-serif" textLength="18.58" lengthAdjust="spacingAndGlyphs" style="text-rendering:geometricPrecision">0.01</text>
<line x1="534.20" y1="276.40" x2="534.20" y2="273.40" stroke="#4a4a4a" stroke-width="1.0"/>
<text x="534.20" y="293.00" font-size="10.3" text-anchor="middle" fill="#484848" font-family="Liberation Sans, sans-serif" textLength="13.27" lengthAdjust="spacingAndGlyphs" style="text-rendering:geometricPrecision">0.1</text>
<line x1="573.20" y1="276.40" x2="573.20" y2="273.40" stroke="#4a4a4a" stroke-width="1.0"/>
<text x="573.20" y="293.00" font-size="10.3" text-anchor="middle" fill="#484848" font-family="Liberation Sans, sans-serif" textLength="5.31" lengthAdjust="spacingAndGlyphs" style="text-rendering:geometricPrecision">1</text>
<line x1="612.20" y1="276.40" x2="612.20" y2="273.40" stroke="#4a4a4a" stroke-width="1.0"/>
<text x="612.20" y="293.00" font-size="10.3" text-anchor="middle" fill="#484848" font-family="Liberation Sans, sans-serif" textLength="10.62" lengthAdjust="spacingAndGlyphs" style="text-rendering:geometricPrecision">10</text>
<line x1="651.20" y1="276.40" x2="651.20" y2="273.40" stroke="#4a4a4a" stroke-width="1.0"/>
<text x="652.70" y="293.00" font-size="10.3" text-anchor="middle" fill="#484848" font-family="Liberation Sans, sans-serif" textLength="15.93" lengthAdjust="spacingAndGlyphs" style="text-rendering:geometricPrecision">100</text>
<text x="521.35" y="311.90" font-size="11.5" text-anchor="start" fill="#484848" font-family="Liberation Sans, sans-serif" textLength="70.27" lengthAdjust="spacingAndGlyphs">Concentration</text>
<text x="596.38" y="311.90" font-size="11.5" text-anchor="start" fill="#484848" font-family="Liberation Sans, sans-serif" textLength="37.07" lengthAdjust="spacingAndGlyphs">(&#956;g/ml)</text>
<text transform="translate(459.60,231.20) rotate(-90)" font-size="11.5" fill="#484848" font-family="Liberation Sans, sans-serif" textLength="35.80" lengthAdjust="spacingAndGlyphs">density</text>
<text transform="translate(459.60,270.40) rotate(-90)" font-size="11.5" fill="#484848" font-family="Liberation Sans, sans-serif" textLength="35.50" lengthAdjust="spacingAndGlyphs">Optical</text>
<polyline fill="none" stroke="#000" stroke-width="1.05" stroke-linejoin="round" points="502.68,187.50 514.40,243.75 526.12,275.75 537.84,276.30 549.56,276.30 561.28,276.30 573.00,276.30 584.72,276.30 596.44,276.30 608.16,276.30 619.88,276.30"/>
<circle cx="502.68" cy="187.50" r="1.75" fill="#000"/>
<circle cx="514.40" cy="243.75" r="1.75" fill="#000"/>
<circle cx="526.12" cy="275.75" r="1.75" fill="#000"/>
<circle cx="537.84" cy="276.30" r="1.75" fill="#000"/>
<circle cx="549.56" cy="276.30" r="1.75" fill="#000"/>
<circle cx="561.28" cy="276.30" r="1.75" fill="#000"/>
<circle cx="573.00" cy="276.30" r="1.75" fill="#000"/>
<circle cx="584.72" cy="276.30" r="1.75" fill="#000"/>
<circle cx="596.44" cy="276.30" r="1.75" fill="#000"/>
<circle cx="608.16" cy="276.30" r="1.75" fill="#000"/>
<circle cx="619.88" cy="276.30" r="1.75" fill="#000"/>
</svg>
</body></html>
